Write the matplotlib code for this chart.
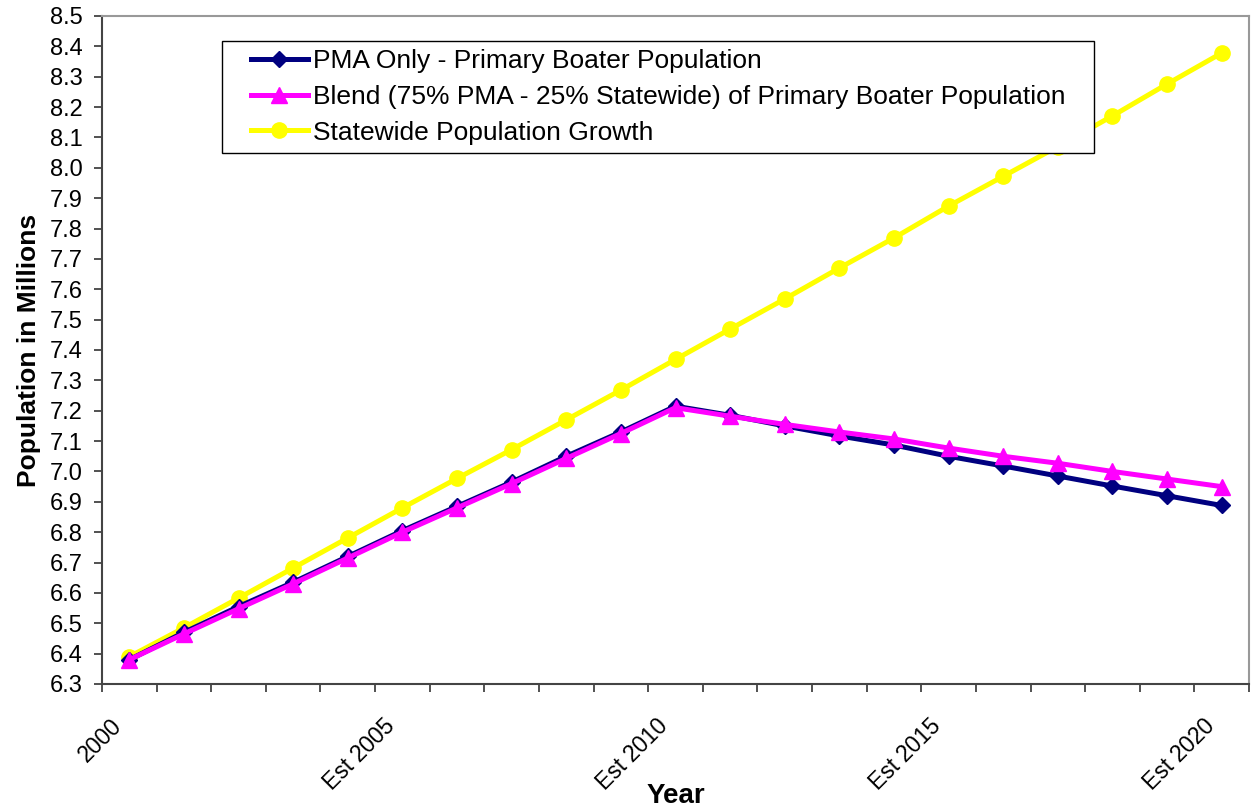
import matplotlib.pyplot as plt
import matplotlib.transforms as mtransforms
from matplotlib.patches import Rectangle
import numpy as np

plt.rcParams['font.family'] = ['Liberation Sans', 'DejaVu Sans']

years = list(range(2000, 2021))
year_labels = ['2000', '', '', '', '', 'Est 2005', '', '', '', '', 'Est 2010',
               '', '', '', '', 'Est 2015', '', '', '', '', 'Est 2020']

# population in millions
pma_only = [6.38, 6.47, 6.555, 6.635, 6.72, 6.805, 6.885, 6.965, 7.05, 7.13, 7.215,
            7.185, 7.15, 7.117, 7.087, 7.05, 7.018, 6.985, 6.952, 6.92, 6.888]
blend = [6.38, 6.465, 6.548, 6.63, 6.715, 6.80, 6.88, 6.96, 7.043, 7.125, 7.21,
         7.182, 7.155, 7.13, 7.107, 7.077, 7.05, 7.027, 7.0, 6.975, 6.95]
statewide = [6.39, 6.485, 6.583, 6.682, 6.781, 6.88, 6.977, 7.072, 7.17, 7.268, 7.369,
             7.469, 7.568, 7.67, 7.769, 7.874, 7.972, 8.07, 8.171, 8.276, 8.378]

fig = plt.figure(figsize=(12.54, 8.10), dpi=100)
ax = fig.add_axes([102/1254, 1 - 684/810, (1249-102)/1254, (684-16)/810])

x = np.arange(len(years))
ax.plot(x, pma_only, color='#000080', lw=3.6, marker='D', ms=8.5,
        label='PMA Only - Primary Boater Population', zorder=3)
ax.plot(x, blend, color='#FF00FF', lw=3.6, marker='^', ms=11,
        label='Blend (75% PMA - 25% Statewide) of Primary Boater Population', zorder=4)
ax.plot(x, statewide, color='#FFFF00', lw=3.6, marker='o', ms=11,
        label='Statewide Population Growth', zorder=2)

ax.set_xlim(-0.5, len(years) - 0.5)
ax.set_ylim(6.3, 8.5)
ax.set_yticks(np.round(np.arange(6.3, 8.51, 0.1), 1))
ax.set_yticklabels(['%.1f' % v for v in np.arange(6.3, 8.51, 0.1)], fontsize=17)

# category boundaries get the tick marks, labels sit at category centres
ax.set_xticks(np.arange(-0.5, len(years), 1.0))
ax.set_xticklabels([])
ax.set_xticks(x, minor=True)
ax.set_xticklabels(year_labels, minor=True, rotation=45, ha='right',
                   rotation_mode='anchor', fontsize=16.5)
ax.tick_params(axis='x', which='minor', length=0, pad=22)
shift = mtransforms.ScaledTranslation(-0.19, 0, fig.dpi_scale_trans)
for lbl in ax.get_xticklabels(minor=True):
    lbl.set_transform(lbl.get_transform() + shift)
ax.tick_params(axis='both', which='major', direction='out', length=6, width=1.2, color='#333333')
ax.tick_params(axis='y', pad=8)

for side in ['left', 'bottom']:
    ax.spines[side].set_color('#444444')
    ax.spines[side].set_linewidth(1.5)
for side in ['top', 'right']:
    ax.spines[side].set_color('#999999')
    ax.spines[side].set_linewidth(1.5)

ax.set_xlabel('Year', fontsize=20, fontweight='bold')
ax.xaxis.set_label_coords(0.5, -0.148)
ax.set_ylabel('Population in Millions', fontsize=19, fontweight='bold', labelpad=6)

leg = ax.legend(loc='upper left', bbox_to_anchor=((243-102)/1147, (684-41)/668),
                fontsize=19, frameon=False,
                handlelength=2.15, handletextpad=0.2, borderpad=0.3, labelspacing=0.45,
                borderaxespad=0)
leg.set_zorder(6)

# legend box drawn wider than the packed entries, as in the original
fig.canvas.draw()
bb = leg.get_window_extent()
box = Rectangle((bb.x0 - 21, bb.y0), bb.width + 42, bb.height,
                transform=mtransforms.IdentityTransform(),
                facecolor='white', edgecolor='black', lw=1.0, zorder=5, clip_on=False)
ax.add_artist(box)

fig.savefig('out.png', dpi=100, facecolor='white')
